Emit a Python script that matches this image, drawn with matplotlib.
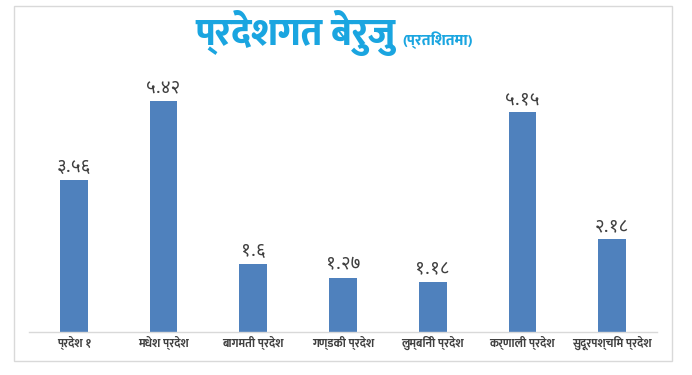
import matplotlib
matplotlib.use("Agg")
import matplotlib.pyplot as plt
from matplotlib.patches import Rectangle

# ---- data ----
provinces = ["प्रदेश १", "मधेश प्रदेश", "बागमती प्रदेश", "गण्डकी प्रदेश",
             "लुम्बिनी प्रदेश", "कर्णाली प्रदेश", "सुदूरपश्चिम प्रदेश"]
irregularity_pct = [3.56, 5.42, 1.6, 1.27, 1.18, 5.15, 2.18]
title_main = "प्रदेशगत बेरुजु"
title_sub = "(प्रतिशतमा)"

DEV_DIGITS = str.maketrans("0123456789", "०१२३४५६७८९")

FONT = ["Noto Sans Devanagari", "DejaVu Sans"]
FONT_BOLD = ["Mukta", "Noto Sans Devanagari", "DejaVu Sans"]

fig = plt.figure(figsize=(6.92, 3.75), dpi=100)
W, H = 692, 375

# outer chart border
fig.patches.append(Rectangle((14 / W, 1 - 361 / H), (672 - 14) / W, (361 - 6) / H,
                             transform=fig.transFigure, fill=False,
                             edgecolor="#d9d9d9", linewidth=1.0))

ax = fig.add_axes([29 / W, 1 - 332 / H, (657 - 29) / W, (332 - 76) / H])
x = list(range(len(provinces)))
ax.bar(x, irregularity_pct, width=0.31, color="#4F81BD", zorder=2)

ax.set_xlim(-0.5, len(provinces) - 0.5)
ax.set_ylim(0, 6)
ax.set_yticks([])
for s in ["top", "left", "right"]:
    ax.spines[s].set_visible(False)
ax.spines["bottom"].set_color("#d9d9d9")
ax.spines["bottom"].set_linewidth(1.0)
ax.set_xticks(x)
ax.set_xticklabels(provinces, family=FONT_BOLD, fontsize=8.5, fontweight="bold", color="#404040")
ax.tick_params(axis="x", length=0, pad=3)

for xi, v in zip(x, irregularity_pct):
    ax.annotate(f"{v:g}".translate(DEV_DIGITS), (xi, v), xytext=(0, 3),
                textcoords="offset points", ha="center", va="bottom",
                family=FONT, fontsize=13.5, color="#404040")

fig.text(396 / W, 1 - 33 / H, title_main, family=FONT_BOLD, fontsize=27, fontweight="heavy",
         color="#1AA5E0", ha="right", va="center")
fig.text(402 / W, 1 - 40 / H, title_sub, family=FONT_BOLD, fontsize=11, fontweight="heavy",
         color="#1AA5E0", ha="left", va="center")

fig.savefig("out.png", dpi=100)
